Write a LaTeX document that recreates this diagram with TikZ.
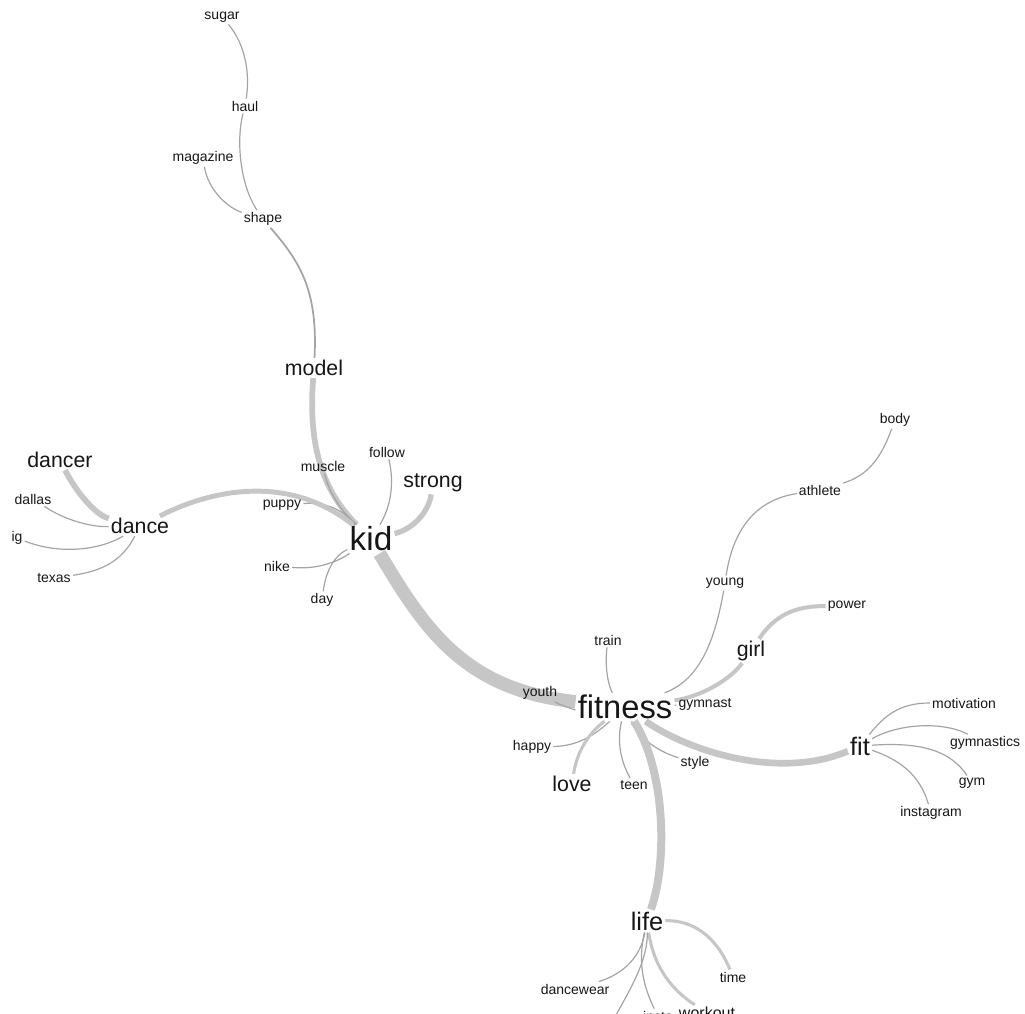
\documentclass[tikz,border=0pt]{standalone}
\usepackage{fontspec}
\setmainfont{Liberation Sans}
\usetikzlibrary{backgrounds}
\definecolor{linkgray}{HTML}{A4A4A4}
\definecolor{bandgray}{HTML}{C6C6C6}
\definecolor{wordink}{HTML}{161616}

\begin{document}
\begin{tikzpicture}[x=0.75pt,y=-0.75pt,
  thinlink/.style={draw=linkgray, line width=0.9pt},
  midlink/.style={draw=bandgray, line width=2.3pt},
  widelink/.style={draw=bandgray, line width=4.3pt},
  trunk/.style={draw=bandgray, line width=10pt}]
\useasboundingbox (0,0) rectangle (1025,1014);
 % small words
 \begin{scope}[every node/.style={text=wordink, inner sep=1.5pt, font=\fontsize{10.5}{12}\selectfont}]
  \node (sugar) at (222,17) {sugar};
  \node (haul) at (245,106) {haul};
  \node (magazine) at (203,158) {magazine};
  \node (shape) at (263,219) {shape};
  \node (muscle) at (323,466) {muscle};
  \node (follow) at (387,452) {follow};
  \node (puppy) at (282,505) {puppy};
  \node (nike) at (277,566) {nike};
  \node (day) at (322,600) {day};
  \node (dallas) at (33,499) {dallas};
  \node (ig) at (17,538) {ig};
  \node (texas) at (54,578) {texas};
  \node (body) at (895,420) {body};
  \node (athlete) at (820,490) {athlete};
  \node (young) at (725,583) {young};
  \node (power) at (847,606) {power};
  \node (train) at (608,640) {train};
  \node (youth) at (540,693) {youth};
  \node (gymnast) at (705,704) {gymnast};
  \node (happy) at (532,747) {happy};
  \node (teen) at (634,785) {teen};
  \node (style) at (695,763) {style};
  \node (motivation) at (964,703) {motivation};
  \node (gymnastics) at (985,743) {gymnastics};
  \node (gym) at (972,783) {gym};
  \node (instagram) at (931,813) {instagram};
  \node (time) at (733,977) {time};
  \node (dancewear) at (575,989) {dancewear};
  \node (insta) at (658,1016) {insta};
 \end{scope}
 % medium words
 \begin{scope}[every node/.style={text=wordink, inner sep=1.5pt, font=\fontsize{16}{18}\selectfont}]
  \node (model) at (314,368) {model};
  \node (strong) at (433,483) {strong};
  \node (dancer) at (60,460) {dancer};
  \node (dance) at (140,526) {dance};
  \node (girl) at (751,651) {girl};
  \node (love) at (572,784) {love};
 \end{scope}
 \node [text=wordink, inner sep=1.5pt, font=\fontsize{12}{14}\selectfont] (workout) at (707,1013) {workout};
 % large words
 \begin{scope}[every node/.style={text=wordink, inner sep=1.5pt}]
  \node [font=\fontsize{25}{28}\selectfont] (kid) at (371,539) {kid};
  \node [font=\fontsize{24.5}{28}\selectfont] (fitness) at (625,707) {fitness};
  \node [font=\fontsize{19}{22}\selectfont] (fit) at (860,746) {fit};
  \node [font=\fontsize{19}{22}\selectfont] (life) at (647,921) {life};
 \end{scope}
 \coordinate (lifeout) at (612,1022);

 \begin{pgfonlayer}{background}
  % model branch
  \draw [thinlink] (sugar) .. controls (246,45) and (250,75) .. (haul);
  \draw [thinlink] (haul) .. controls (236,140) and (240,185) .. (shape);
  \draw [thinlink] (magazine) .. controls (208,190) and (228,208) .. (shape);
  \draw [thinlink, line width=1.3pt] (shape) .. controls (300,262) and (318,290) .. (model);
  \draw [widelink] (model) .. controls (308,445) and (322,490) .. (kid);
  % around kid
  \draw [thinlink] (muscle) .. controls (328,490) and (340,510) .. (kid);
  \draw [thinlink] (puppy) .. controls (325,502) and (340,508) .. (kid);
  \draw [widelink, line width=3.7pt] (dance) .. controls (215,488) and (290,475) .. (kid);
  \draw [thinlink] (follow) .. controls (394,480) and (392,505) .. (kid);
  \draw [widelink, line width=4pt] (strong) .. controls (428,515) and (410,530) .. (kid);
  \draw [thinlink] (nike) .. controls (320,570) and (340,560) .. (kid);
  \draw [thinlink] (day) .. controls (326,570) and (335,555) .. (kid);
  % dance branch
  \draw [widelink] (dancer) .. controls (75,490) and (95,515) .. (dance);
  \draw [thinlink] (dallas) .. controls (65,520) and (90,527) .. (dance);
  \draw [thinlink] (ig) .. controls (60,555) and (100,550) .. (dance);
  \draw [thinlink] (texas) .. controls (110,570) and (125,555) .. (dance);
  % trunk
  \draw [trunk] (kid) .. controls (425,630) and (465,690) .. (fitness);
  % around fitness
  \draw [thinlink] (youth) .. controls (560,705) and (575,710) .. (fitness);
  \draw [thinlink] (train) .. controls (604,670) and (610,690) .. (fitness);
  \draw [thinlink] (young) .. controls (715,640) and (700,680) .. (fitness);
  \draw [thinlink] (young) .. controls (733,530) and (755,500) .. (athlete);
  \draw [thinlink] (athlete) .. controls (870,475) and (882,455) .. (body);
  \draw [midlink, line width=3pt] (fitness) .. controls (700,697) and (730,680) .. (girl);
  \draw [midlink, line width=3pt] (girl) .. controls (775,615) and (795,606) .. (power);
  \draw [thinlink] (fitness) -- (gymnast);
  \draw [thinlink] (happy) .. controls (578,746) and (595,735) .. (fitness);
  \draw [midlink] (love) .. controls (578,745) and (595,728) .. (fitness);
  \draw [thinlink] (teen) .. controls (620,760) and (617,740) .. (fitness);
  \draw [thinlink] (style) .. controls (660,752) and (640,740) .. (fitness);
  \draw [widelink, line width=5pt] (fitness) .. controls (690,752) and (780,780) .. (fit);
  \draw [widelink, line width=6pt] (fitness) .. controls (665,770) and (668,860) .. (life);
  % fit branch
  \draw [thinlink] (fit) .. controls (885,715) and (900,703) .. (motivation);
  \draw [thinlink] (fit) .. controls (895,725) and (940,720) .. (gymnastics);
  \draw [thinlink] (fit) .. controls (920,742) and (950,750) .. (gym);
  \draw [thinlink] (fit) .. controls (900,760) and (920,775) .. (instagram);
  % life branch
  \draw [midlink] (life) .. controls (700,920) and (720,945) .. (time);
  \draw [thinlink] (life) .. controls (640,960) and (620,975) .. (dancewear);
  \draw [midlink] (life) .. controls (655,975) and (680,995) .. (workout);
  \draw [thinlink] (life) .. controls (637,965) and (645,990) .. (insta);
  \draw [thinlink] (life) .. controls (648,960) and (630,990) .. (lifeout);
 \end{pgfonlayer}
\end{tikzpicture}
\end{document}
